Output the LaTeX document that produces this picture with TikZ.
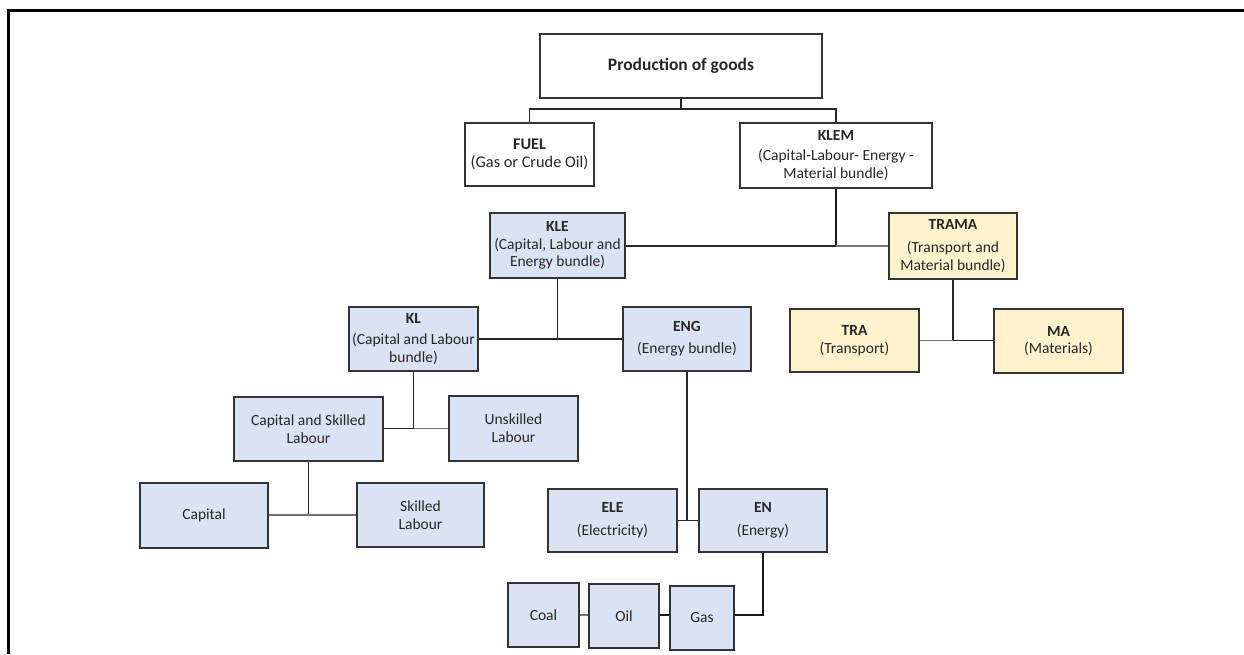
\documentclass[tikz,border=0pt]{standalone}
\usepackage{fontspec}
\setmainfont{Carlito}
\definecolor{boxblue}{HTML}{DAE3F3}
\definecolor{boxyellow}{HTML}{FFF2CC}
\definecolor{inkgray}{HTML}{262626}
\begin{document}
\begin{tikzpicture}[x=1pt,y=-1pt,
  box/.style={draw=black!80, line width=1.3pt, align=center, inner sep=0pt,
    text=inkgray, font=\fontsize{15.5}{17.7}\selectfont},
  plain/.style={box, fill=white},
  bluebox/.style={box, fill=boxblue},
  ylwbox/.style={box, fill=boxyellow},
  link/.style={draw=black!85, line width=1.3pt},
  softlink/.style={draw=black!55, line width=1.3pt},
  heavy/.style={draw=black!90, line width=2.4pt}]
\useasboundingbox (0,0) rectangle (1244,654);
\fill[white] (0,0) rectangle (1244,654);
% outer frame
\draw[line width=2.4pt] (8.5,654) -- (8.5,10.5) -- (1244,10.5);

% boxes
\node[plain, minimum width=282pt, minimum height=64pt, font=\fontsize{17.5}{20}\selectfont\bfseries] (prod) at (681,66) {Production of goods};
\node[plain, minimum width=129pt, minimum height=63pt, font=\fontsize{16.3}{17.7}\selectfont] (fuel) at (529.5,154.5) {\textbf{FUEL}\\(Gas or Crude Oil)};
\node[plain, minimum width=192pt, minimum height=65pt] (klem) at (836,155.5) {\textbf{KLEM}\\[2pt](Capital-Labour- Energy -\\Material bundle)};
\node[bluebox, minimum width=135pt, minimum height=65pt] (kle) at (557.5,245.5) {\textbf{KLE}\\(Capital, Labour and\\Energy bundle)};
\node[ylwbox, minimum width=128pt, minimum height=66pt] (trama) at (953,246) {\textbf{TRAMA}\\[5pt](Transport and\\Material bundle)};
\node[bluebox, minimum width=129pt, minimum height=64pt] (kl) at (413.5,339) {\textbf{KL}\\[4pt](Capital and Labour\\bundle)};
\node[bluebox, minimum width=128pt, minimum height=64pt] (eng) at (687,339) {\textbf{ENG}\\[4pt](Energy bundle)};
\node[ylwbox, minimum width=129pt, minimum height=63pt] (tra) at (854.5,340.5) {\textbf{TRA}\\(Transport)};
\node[ylwbox, minimum width=129pt, minimum height=64pt] (ma) at (1058.5,341) {\textbf{MA}\\(Materials)};
\node[bluebox, minimum width=149pt, minimum height=64pt] (csl) at (308.5,429) {Capital and Skilled\\Labour};
\node[bluebox, minimum width=129pt, minimum height=65pt] (unsk) at (513.5,428.5) {Unskilled\\Labour};
\node[bluebox, minimum width=128pt, minimum height=65pt] (cap) at (204,515.5) {Capital};
\node[bluebox, minimum width=127pt, minimum height=64pt] (skl) at (420.5,515) {Skilled\\Labour};
\node[bluebox, minimum width=129pt, minimum height=63pt] (ele) at (612.5,520.5) {\textbf{ELE}\\[5pt](Electricity)};
\node[bluebox, minimum width=128pt, minimum height=63pt] (en) at (763,520.5) {\textbf{EN}\\[5pt](Energy)};
\node[bluebox, minimum width=71pt, minimum height=64pt] (coal) at (543.5,615) {Coal};
\node[bluebox, minimum width=70pt, minimum height=64pt] (oil) at (624,616) {Oil};
\node[bluebox, minimum width=64pt, minimum height=64pt] (gas) at (702,618) {Gas};

% junction points
\coordinate (j1) at (681,109);
\coordinate (j2) at (836,246);
\coordinate (j3) at (557.5,339);
\coordinate (j4) at (953,340.5);
\coordinate (j5) at (413.5,428.5);
\coordinate (j6) at (308.5,515);
\coordinate (j7) at (687,520.5);
\coordinate (j8) at (763,615);

% connectors
\draw[link] (prod.south) -- (j1);
\draw[link] (fuel.north) |- (j1) -| (klem.north);
\draw[heavy] (klem.south) -- (j2);
\draw[link] (kle.east |- j2) -- (j2);
\draw[softlink] (j2) -- (trama.west |- j2);
\draw[link] (kle.south) -- (j3);
\draw[link] (kl.east |- j3) -- (eng.west |- j3);
\draw[link] (trama.south) -- (j4);
\draw[softlink] (tra.east |- j4) -- (j4);
\draw[link] (j4) -- (ma.west |- j4);
\draw[link] (kl.south) -- (j5);
\draw[link] (csl.east |- j5) -- (j5);
\draw[softlink] (j5) -- (unsk.west |- j5);
\draw[link] (csl.south) -- (j6);
\draw[softlink] (cap.east |- j6) -- (skl.west |- j6);
\draw[link] (eng.south) -- (j7);
\draw[link] (ele.east |- j7) -- (en.west |- j7);
\draw[heavy] (en.south) -- (j8) -- (gas.east |- j8);
\draw[softlink] (coal.east |- j8) -- (oil.west |- j8);
\draw[heavy] (oil.east |- j8) -- (gas.west |- j8);
\end{tikzpicture}
\end{document}
